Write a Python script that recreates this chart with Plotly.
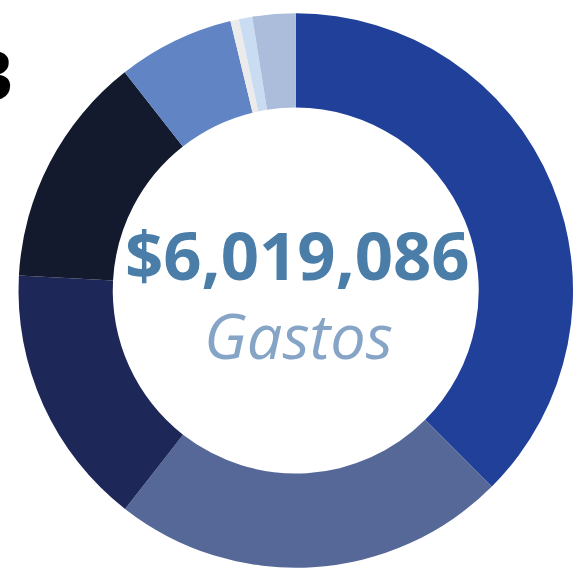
import plotly.graph_objects as go

W, H = 573, 569

categories = ["Cat A", "Cat B", "Cat C", "Cat D", "Cat E", "Cat F", "Cat G", "Cat H"]
values = [2257000, 1388000, 921000, 816000, 409000, 30000, 47000, 151000]
colors = ["#21409A", "#556898", "#1E2858", "#131A2D", "#6184C4", "#EBEBEB", "#CADCF2", "#ABBDDB"]
total_label = "$6,019,086"
sub_label = "Gastos"
edge_label = "3"

fig = go.Figure(go.Pie(
    labels=categories,
    values=values,
    marker=dict(colors=colors, line=dict(width=0)),
    hole=0.66,
    sort=False,
    direction="clockwise",
    rotation=0,
    textinfo="none",
    hoverinfo="label+value+percent",
    showlegend=False,
    domain=dict(x=[18.5 / W, 1.0], y=[1.0 / H, 556.0 / H]),
))

def px(x):
    return x / W

def py(y):
    return 1 - y / H

fig.add_annotation(x=px(297), y=py(254), xref="paper", yref="paper",
                   text="<b>" + total_label + "</b>", showarrow=False,
                   font=dict(family="Open Sans", size=67, color="#4A7EA8"),
                   xanchor="center", yanchor="middle")
fig.add_annotation(x=px(298), y=py(334), xref="paper", yref="paper",
                   text="<i>" + sub_label + "</i>", showarrow=False,
                   font=dict(family="Open Sans", size=63, color="#86A5C6"),
                   xanchor="center", yanchor="middle")
fig.add_annotation(x=px(14), y=py(74), xref="paper", yref="paper",
                   text="<b>" + edge_label + "</b>", showarrow=False,
                   font=dict(family="Open Sans", size=66, color="#000000"),
                   xanchor="right", yanchor="middle", borderpad=0)

fig.update_layout(width=W, height=H, margin=dict(l=0, r=0, t=0, b=0),
                  paper_bgcolor="white", plot_bgcolor="white")
fig.write_html("out.html", config={"displayModeBar": False},
               post_script="document.body.style.margin='0px';document.body.style.overflow='hidden';")
